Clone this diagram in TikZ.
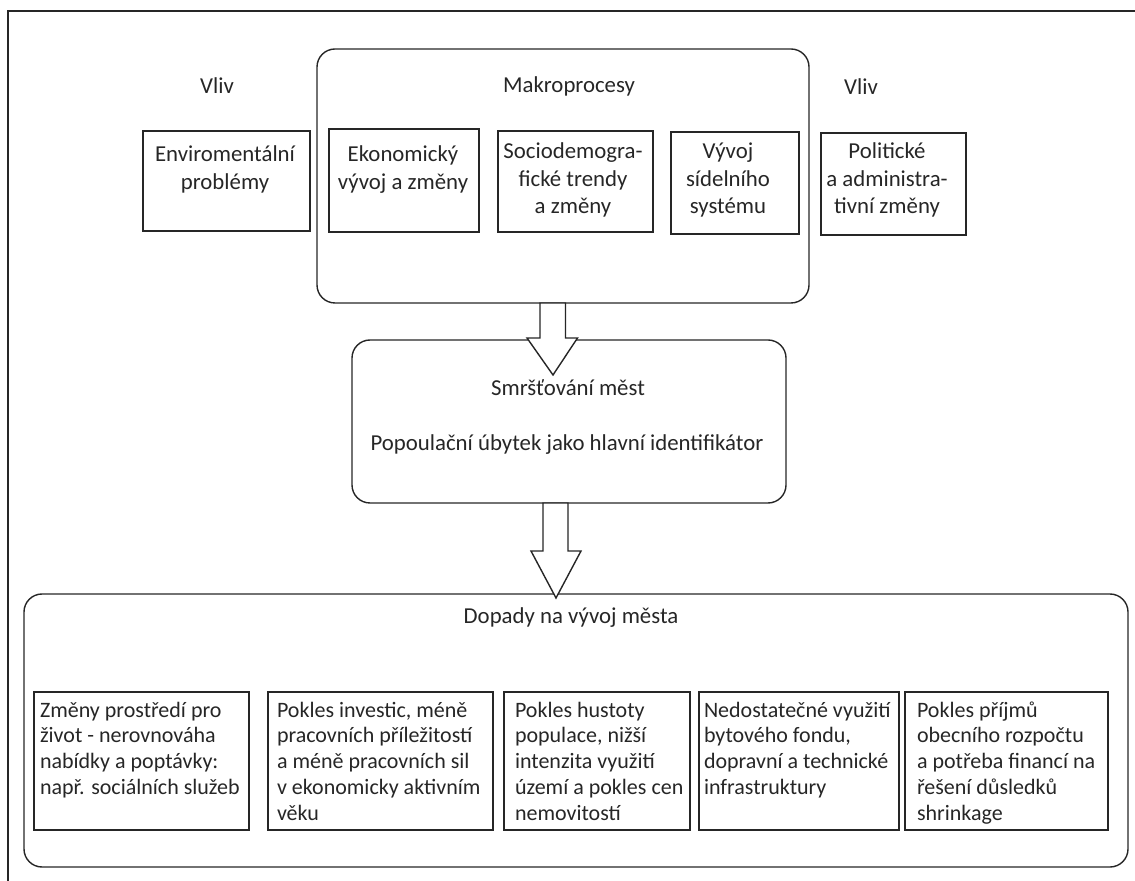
\documentclass[tikz,border=0pt]{standalone}
\usepackage{fontspec}
\setmainfont{Carlito}
\usetikzlibrary{calc}
\tikzset{
  frame/.style={draw=black!85, line width=0.8pt},
  box/.style={draw=black!85, line width=0.7pt, rectangle, inner sep=0pt, outer sep=0pt},
  rbox/.style={box, rounded corners=9pt},
  txt/.style={inner sep=0pt, outer sep=0pt, text=black!85, align=center, font=\fontsize{11.4}{13.75}\selectfont},
  ltxt/.style={inner sep=0pt, outer sep=0pt, text=black!85, align=left, font=\fontsize{11}{12.9}\selectfont},
  blockarrow/.style={draw=black!85, line width=0.7pt, fill=white, line join=miter}
}
\begin{document}
\begin{tikzpicture}[x=0.5pt,y=-0.5pt]
\useasboundingbox (0,0) rectangle (1135,881);
% outer frame (cut by picture edges)
\draw[frame] (8,890) -- (8,11) -- (1145,11);
% top group
\node[rbox, minimum width=246pt, minimum height=127pt] (macro) at (563,176) {};
\node[txt, anchor=base] (vliv1) at (217,94) {Vliv};
\node[txt, anchor=base] (vliv2) at (861,95) {Vliv};
\node[txt, anchor=base] (macrot) at (569,93) {Makroprocesy};
\node[box, minimum width=83.5pt, minimum height=50pt] (env) at (226.5,181) {};
\node[box, minimum width=75pt, minimum height=51.5pt] (eko) at (404,180.5) {};
\node[box, minimum width=77.5pt, minimum height=50.5pt] (socio) at (575.5,181.5) {};
\node[box, minimum width=64pt, minimum height=51pt] (vyvoj) at (735,183) {};
\node[box, minimum width=72.5pt, minimum height=51pt] (polit) at (893.5,184) {};
% multi-line nodes: base anchor = baseline of last line
\node[txt, anchor=base] (envt) at (225,189.5) {Enviromentální\\problémy};
\node[txt, anchor=base] (ekot) at (403,189.5) {Ekonomický\\vývoj a změny};
\node[txt, anchor=base] (sociot) at (573,214) {Sociodemogra-\\fické trendy\\a změny};
\node[txt, anchor=base] (vyvojt) at (728,214) {Vývoj\\sídelního\\systému};
\node[txt, anchor=base] (politt) at (887,214) {Politické\\a administra-\\tivní změny};
% middle
\node[rbox, minimum width=217pt, minimum height=81.5pt] (mid) at (569,421.5) {};
\node[txt, anchor=base] (midt1) at (568,396) {Smršťování měst};
\node[txt, anchor=base] (midt2) at (567,451) {Popoulační úbytek jako hlavní identifikátor};
% bottom
\node[rbox, minimum width=552pt, minimum height=136.5pt] (bottom) at (576,730.5) {};
\node[txt, anchor=base] (bott) at (571,624) {Dopady na vývoj města};
\node[box, minimum width=107.5pt, minimum height=69pt] (b1) at (141.5,761) {};
\node[box, minimum width=112.5pt, minimum height=69pt] (b2) at (380.5,761) {};
\node[box, minimum width=93pt, minimum height=69pt] (b3) at (597,761) {};
\node[box, minimum width=100pt, minimum height=69pt] (b4) at (799,761) {};
\node[box, minimum width=101.5pt, minimum height=69pt] (b5) at (1006.5,761) {};
\node[ltxt, anchor=base west] (b1t) at (40,794.4) {Změny prostředí pro\\život - nerovnováha\\nabídky a poptávky:\\např. sociálních služeb};
\node[ltxt, anchor=base west] (b2t) at (277,820.2) {Pokles investic, méně\\pracovních příležitostí\\a méně pracovních sil\\v ekonomicky aktivním\\věku};
\node[ltxt, anchor=base west] (b3t) at (515,820.2) {Pokles hustoty\\populace, nižší\\intenzita využití\\území a pokles cen\\nemovitostí};
\node[ltxt, anchor=base west] (b4t) at (704,794.4) {Nedostatečné využití\\bytového fondu,\\dopravní a technické\\infrastruktury};
\node[ltxt, anchor=base west] (b5t) at (917,820.2) {Pokles příjmů\\obecního rozpočtu\\a potřeba financí na\\řešení důsledků\\shrinkage};
% block arrows
\coordinate (a1s) at (macro.south -| 552.5,0);
\coordinate (a1e) at (553,375);
\draw[blockarrow] ($(a1s)+(-12.5,0)$) -- ++(0,35) -- ++(-13,0) -- (a1e) -- ($(a1s)+(25,35)$) -- ++(-12,0) -- ++(0,-35) -- cycle;
\coordinate (a2s) at (mid.south -| 555.5,0);
\coordinate (a2e) at (556,598);
\draw[blockarrow] ($(a2s)+(-12.5,0)$) -- ++(0,48) -- ++(-12,0) -- (a2e) -- ($(a2s)+(25.5,48)$) -- ++(-13,0) -- ++(0,-48) -- cycle;
\end{tikzpicture}
\end{document}
